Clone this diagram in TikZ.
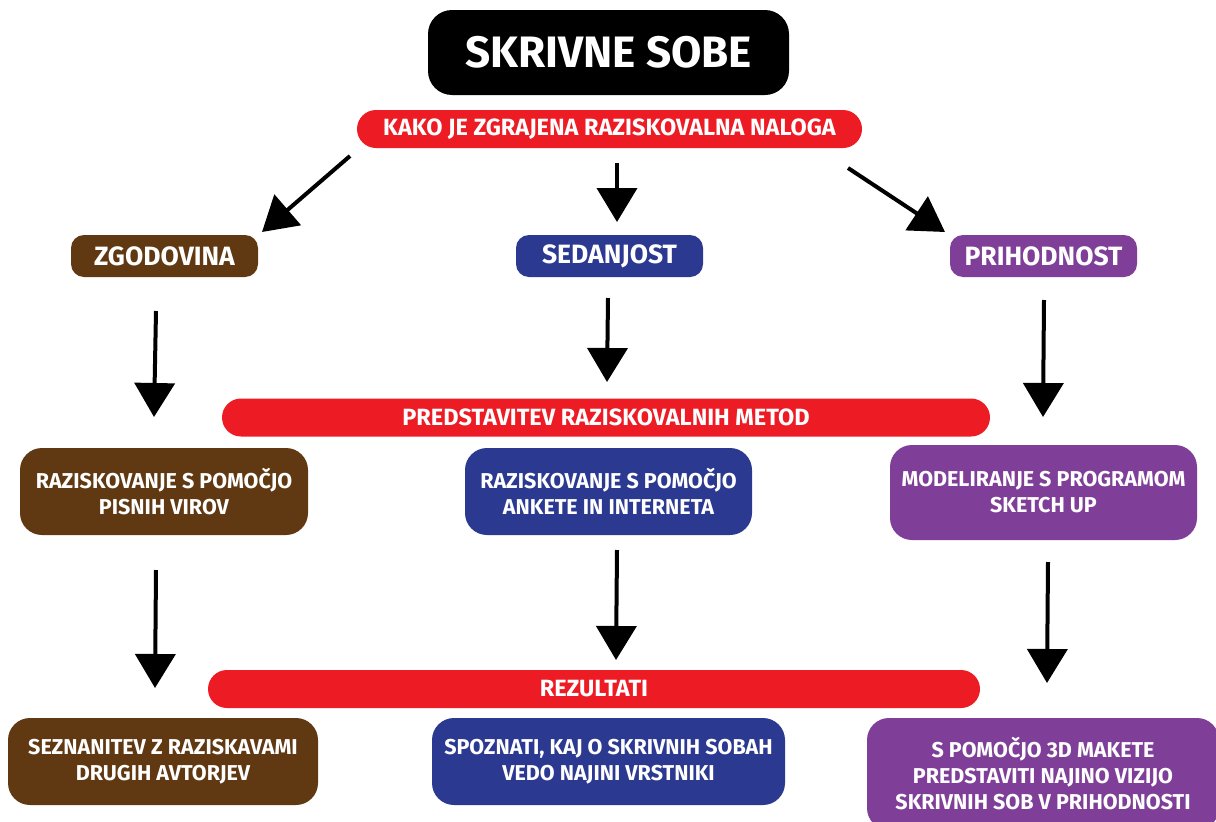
\documentclass[tikz,border=0pt]{standalone}
\usepackage{fontspec}
\setmainfont{Fira Sans}
\usetikzlibrary{arrows.meta}
\definecolor{cbrown}{HTML}{603913}
\definecolor{cblue}{HTML}{2B3990}
\definecolor{cpurple}{HTML}{7F3F98}
\definecolor{cred}{HTML}{ED1C24}
\begin{document}
\begin{tikzpicture}[x=1pt,y=-1pt,
  box/.style={fill=#1, text=white, font=\bfseries\fontsize{21.5}{26}\selectfont, align=center, rounded corners=22pt, inner sep=0pt},
  lab/.style={fill=#1, text=white, font=\bfseries\fontsize{26.5}{30}\selectfont, align=center, rounded corners=13pt, inner sep=0pt, minimum width=187pt, minimum height=42pt},
  bar/.style={fill=cred, text=white, font=\bfseries\fontsize{23.5}{26}\selectfont, rounded corners=19pt, inner sep=0pt, minimum height=38pt},
  arr/.style={line width=4pt, -{Triangle[length=34pt,width=40pt]}}]
\useasboundingbox (0,0) rectangle (1216,822);
\fill[white] (0,0) rectangle (1216,822);

\node[fill=black, text=white, font=\bfseries\fontsize{44}{50}\selectfont, rounded corners=24pt, minimum width=361pt, minimum height=85pt, inner sep=0pt] (title) at (608.5,52.5) {SKRIVNE SOBE};

\node[bar, minimum width=505pt] (kako) at (609.5,129) {KAKO JE ZGRAJENA RAZISKOVALNA NALOGA};

\node[lab=cbrown] (zgod) at (164.5,256) {ZGODOVINA};
\node[lab=cblue] (sed) at (609.5,256) {SEDANJOST};
\node[lab=cpurple] (prih) at (1043.5,256) {PRIHODNOST};

\node[bar, minimum width=768pt] (pred) at (606,417.5) {PREDSTAVITEV RAZISKOVALNIH METOD};

\node[box=cbrown, minimum width=288pt, minimum height=87pt] (r1) at (164,491.5) {RAZISKOVANJE S POMOČJO\\PISNIH VIROV};
\node[box=cblue, minimum width=287pt, minimum height=87pt] (r2) at (608.5,491.5) {RAZISKOVANJE S POMOČJO\\ANKETE IN INTERNETA};
\node[box=cpurple, minimum width=307pt, minimum height=95pt] (r3) at (1043.5,492.5) {MODELIRANJE S PROGRAMOM\\SKETCH UP};

\node[bar, minimum width=772pt] (rez) at (594,689) {REZULTATI};

\node[box=cbrown, minimum width=310pt, minimum height=87pt] (s1) at (163,761.5) {SEZNANITEV Z RAZISKAVAMI\\DRUGIH AVTORJEV};
\node[box=cblue, minimum width=353pt, minimum height=87pt] (s2) at (608.5,761.5) {SPOZNATI, KAJ O SKRIVNIH SOBAH\\VEDO NAJINI VRSTNIKI};
\node[box=cpurple, minimum width=352pt, minimum height=112pt] (s3) at (1043,774) {S POMOČJO 3D MAKETE\\PREDSTAVITI NAJINO VIZIJO\\SKRIVNIH SOB V PRIHODNOSTI};

% arrow end points
\coordinate (a1s) at (350,156);
\coordinate (a1e) at (262,232);
\coordinate (a2s) at (617,163);
\coordinate (a2e) at (617,222);
\coordinate (a3s) at (848,168);
\coordinate (a3e) at (945,232);
\coordinate (b1s) at (156,311);
\coordinate (b1e) at (154,417);
\coordinate (b2s) at (608,298);
\coordinate (b2e) at (607,382);
\coordinate (b3s) at (1044,300);
\coordinate (b3e) at (1043,417);
\coordinate (c1s) at (156,570);
\coordinate (c1e) at (155,688);
\coordinate (c2s) at (617,550);
\coordinate (c2e) at (616,660);
\coordinate (c3s) at (1048,562);
\coordinate (c3e) at (1047,683);

\foreach \p in {a1,a2,a3,b1,b2,b3,c1,c2,c3}
  \draw[arr] (\p s) -- (\p e);
\end{tikzpicture}
\end{document}
